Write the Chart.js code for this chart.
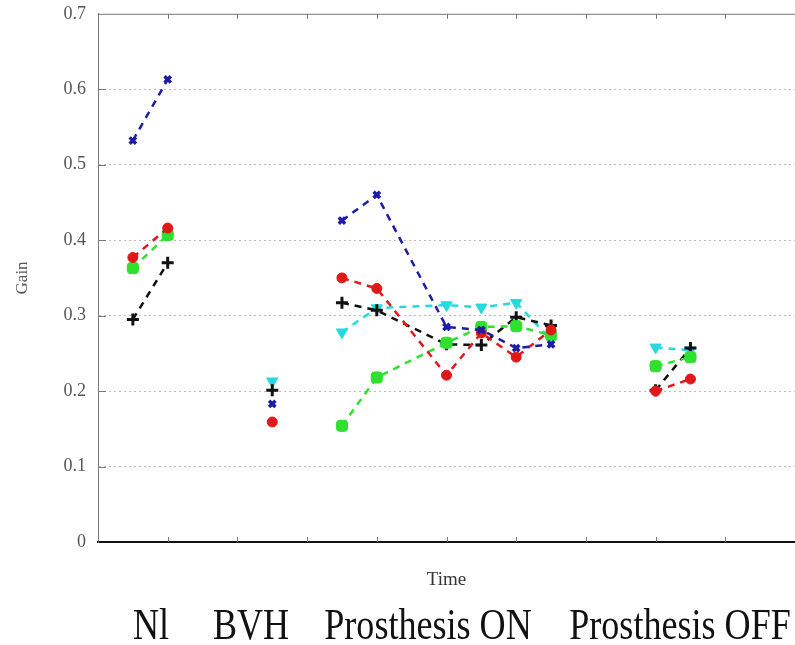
<!DOCTYPE html>
<html>
<head>
<meta charset="utf-8">
<script src="https://cdn.jsdelivr.net/npm/chart.js@4.4.1/dist/chart.umd.min.js"></script>
<style>
  body { margin: 0; background: #fff; }
  #wrap { position: relative; width: 795px; height: 645px; overflow: hidden; }
  #chart { position: absolute; left: 0; top: -9px; }
  #groups span {
    position: absolute; top: 603px;
    font: 44px "Liberation Serif", serif; color: #111;
    transform: translateX(-50%) scaleX(0.82);
    white-space: nowrap; line-height: 44px;
  }
</style>
</head>
<body>
<div id="wrap">
  <canvas id="chart" width="804" height="654"></canvas>
  <div id="groups"></div>
</div>
<script>
// time positions; 1.75, 3.0 and 7.25 are breaks between the conditions
const timePoints = [0.5, 1.0, 1.75, 2.5, 3.0, 3.5, 4.0, 5.0, 5.5, 6.0, 6.5, 7.25, 8.0, 8.5];

const redGain   = [0.377, 0.416, null, 0.159, null, 0.350, 0.336, 0.221, 0.277, 0.245, 0.281, null, 0.200, 0.216];
const blueGain  = [0.532, 0.613, null, 0.183, null, 0.426, 0.460, 0.285, 0.281, 0.257, 0.262, null, null, null];
const greenGain = [0.363, 0.407, null, null, null, 0.154, 0.218, 0.264, 0.285, 0.286, 0.274, null, 0.233, 0.245];
const blackGain = [0.295, 0.370, null, 0.201, null, 0.317, 0.307, 0.262, 0.261, 0.298, 0.287, null, 0.201, 0.257];
const cyanGain  = [null, null, null, 0.213, null, 0.278, 0.310, 0.314, 0.311, 0.317, 0.268, null, 0.258, 0.254];

const yTicks = [0, 0.1, 0.2, 0.3, 0.4, 0.5, 0.6, 0.7];
const xTicks = [1, 2, 3, 4, 5, 6, 7, 8, 9];

// condition names under the axis, with the time they sit over
const groupNames = ["Nl", "BVH", "Prosthesis ON", "Prosthesis OFF"];
const groupCenters = [0.76, 2.2, 4.73, 8.35];

const serif = '"Liberation Serif", "DejaVu Serif", serif';

//turn a value list into x/y points
function toPoints(values) {
  return values.map((v, i) => ({ x: timePoints[i], y: v }));
}

function series(values, color, style, radius, width) {
  return {
    data: toPoints(values),
    borderColor: color,
    backgroundColor: color,
    pointBorderColor: color,
    pointBackgroundColor: color,
    borderWidth: 2.5,
    borderDash: [7, 6],
    pointStyle: style,
    pointRadius: radius,
    pointBorderWidth: width,
    spanGaps: false,
    tension: 0,
  };
}

const cyanSet = series(cyanGain, "#26d9e0", "triangle", 6.5, 1);
cyanSet.pointRotation = 180;

//little ticks inside the frame and the top border line
const frameTicks = {
  id: "frameTicks",
  afterDatasetsDraw(chart) {
    const { ctx, chartArea, scales } = chart;
    ctx.save();
    ctx.strokeStyle = "#777";
    ctx.lineWidth = 1;
    ctx.beginPath();
    ctx.moveTo(chartArea.left, chartArea.top + 0.5);
    ctx.lineTo(chartArea.right, chartArea.top + 0.5);
    for (const t of xTicks) {
      const px = Math.round(scales.x.getPixelForValue(t)) + 0.5;
      ctx.moveTo(px, chartArea.bottom);
      ctx.lineTo(px, chartArea.bottom - 5);
      ctx.moveTo(px, chartArea.top);
      ctx.lineTo(px, chartArea.top + 5);
    }
    for (const t of yTicks.slice(1, -1)) {
      const py = Math.round(scales.y.getPixelForValue(t)) + 0.5;
      ctx.moveTo(chartArea.left, py);
      ctx.lineTo(chartArea.left + 8, py);
    }
    ctx.stroke();
    ctx.restore();
  },
};

const chart = new Chart(document.getElementById("chart"), {
  type: "line",
  plugins: [frameTicks],
  data: {
    datasets: [
      series(blueGain, "#1c1ca8", "crossRot", 4.5, 3.5),
      series(redGain, "#e01818", "circle", 5, 1),
      series(greenGain, "#2fe02f", "rectRounded", 6.5, 1),
      series(blackGain, "#111111", "cross", 6, 3),
      cyanSet,
    ],
  },
  options: {
    responsive: false,
    animation: false,
    layout: { padding: 0 },
    plugins: { legend: { display: false }, tooltip: { enabled: false } },
    scales: {
      x: {
        type: "linear",
        min: 0,
        max: 10,
        afterFit: (s) => { s.height = 103; },
        grid: { display: false },
        border: { color: "#111", width: 2 },
        ticks: { display: false },
        title: {
          display: true,
          text: "Time",
          color: "#333",
          font: { family: serif, size: 19 },
          padding: { top: 0, bottom: 54 },
        },
      },
      y: {
        min: 0,
        max: 0.7,
        afterFit: (s) => { s.width = 98; },
        afterBuildTicks: (s) => { s.ticks = yTicks.map((v) => ({ value: v })); },
        grid: {
          drawTicks: false,
          color: (c) => (c.tick && (c.tick.value === 0 || c.tick.value >= 0.7) ? "rgba(0,0,0,0)" : "#bdbdbd"),
          lineWidth: 1,
        },
        border: { color: "#777", width: 1, dash: [2, 3] },
        ticks: {
          padding: 12,
          color: "#555",
          font: { family: serif, size: 18 },
          callback: (v) => (v === 0 ? "0" : v.toFixed(1)),
        },
        title: {
          display: true,
          text: "Gain",
          color: "#555",
          font: { family: serif, size: 17 },
          padding: { top: 12, bottom: 0 },
        },
      },
    },
  },
});

//condition labels along the bottom
const groups = document.getElementById("groups");
groupNames.forEach((name, i) => {
  const span = document.createElement("span");
  span.textContent = name;
  span.style.left = chart.scales.x.getPixelForValue(groupCenters[i]) + "px";
  groups.appendChild(span);
});
</script>
</body>
</html>
